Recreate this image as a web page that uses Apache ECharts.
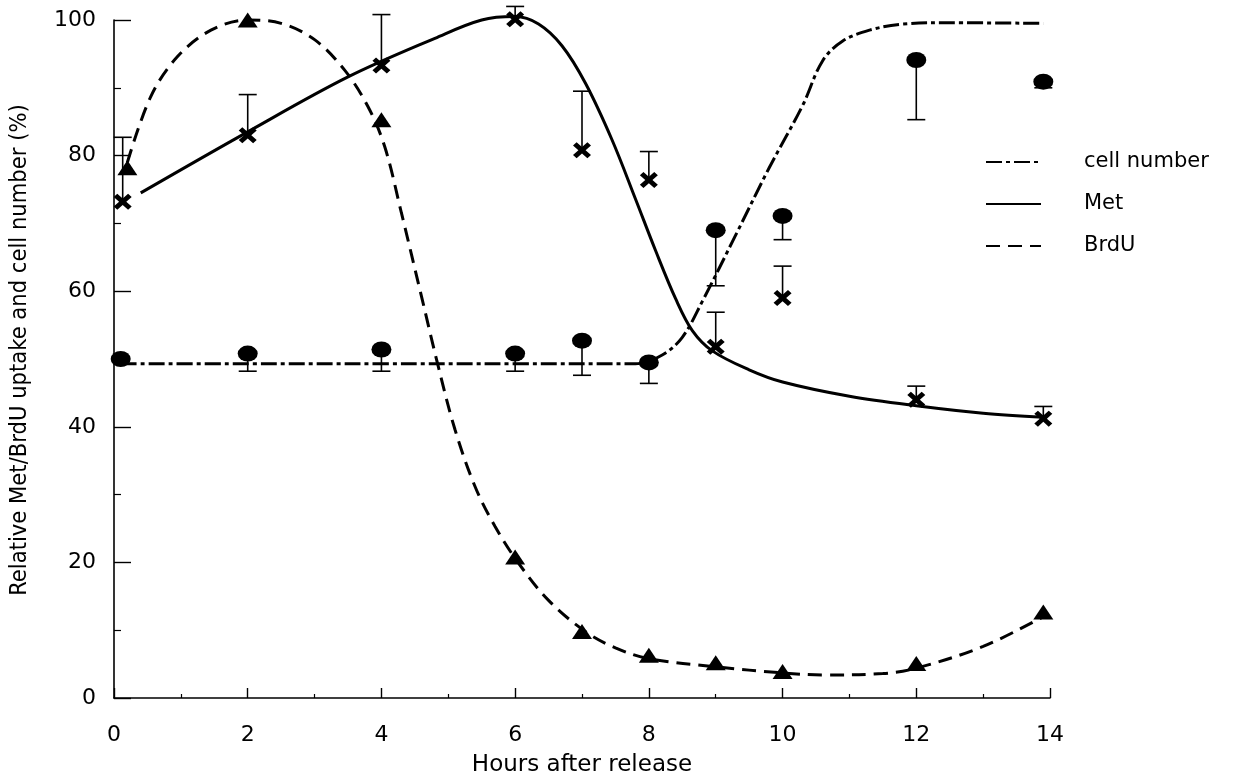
<!DOCTYPE html>
<html>
<head>
<meta charset="utf-8">
<script src="https://cdn.jsdelivr.net/npm/echarts@6/dist/echarts.min.js"></script>
<style>
html,body{margin:0;padding:0;background:#fff;}
#c{width:1256px;height:783px;}
</style>
</head>
<body>
<div id="c"></div>
<script>
// ---- data ----
const xTicks = [0, 2, 4, 6, 8, 10, 12, 14];
const yTicks = [0, 20, 40, 60, 80, 100];

// measured points (marker + error bar end)
const cellX   = [0.1, 2, 4, 6, 7, 8, 9, 10, 12, 13.9];
const cellY   = [50, 50.8, 51.4, 50.8, 52.7, 49.5, 69, 71.1, 94.1, 90.9];
const cellErr = [null, 48.2, 48.2, 48.2, 47.6, 46.4, 60.8, 67.6, 85.3, 90.0];

const metX   = [0.13, 2, 4, 6, 7, 8, 9, 10, 12, 13.9];
const metY   = [73.2, 83, 93.3, 100.1, 80.8, 76.4, 51.8, 59, 44, 41.2];
const metErr = [82.7, 89, 100.8, 102, 89.5, 80.6, 56.9, 63.7, 46, 43];

const brduX = [0.2, 2, 4, 6, 7, 8, 9, 10, 12, 13.9];
const brduY = [78.2, 100, 85.3, 20.8, 9.8, 6.3, 5.2, 3.9, 5.1, 12.7];

// fitted curves
const cellCurve = [[0.1,49.3],[2,49.3],[4,49.3],[6,49.3],[7.8,49.3],[8.2,50.6],[8.5,53.2],[8.8,58.5],[9.3,68.3],[9.8,78.2],[10.3,87.4],[10.6,94],[10.9,96.9],[11.3,98.5],[11.8,99.4],[12.5,99.6],[13.9,99.5]];
const metCurve = [[0.4,74.5],[2,83.5],[3.5,91.6],[4.8,97.3],[5.5,100],[6.0,100.5],[6.35,99.4],[6.7,96.2],[7.05,90.7],[7.45,82.3],[7.8,73.6],[8.1,66],[8.4,58.9],[8.65,54.2],[8.95,51.2],[9.5,48.4],[10,46.6],[11,44.5],[12,43.1],[13,42],[13.9,41.4]];
const brduCurve = [[0.2,79],[0.55,88.7],[0.95,94.6],[1.45,98.5],[2,100],[2.5,99.5],[3,97.1],[3.45,92.6],[3.8,87.2],[4.05,81.3],[4.3,71.5],[4.6,59.2],[4.85,48.9],[5.1,39.6],[5.4,31.2],[5.7,25.3],[6.05,19.9],[6.5,14.4],[7.05,9.8],[7.5,7.4],[8,5.8],[9,4.6],[10,3.7],[10.6,3.4],[11.5,3.6],[12,4.4],[13,7.6],[13.9,12]];

const seriesNames = ['cell number', 'Met', 'BrdU'];
const xTitle = 'Hours after release';
const yTitle = 'Relative Met/BrdU uptake and cell number (%)';

// ---- chart ----
const zip = (xs, ys) => xs.map((x, i) => [x, ys[i]]);
const errData = (xs, ys, es) => xs.map((x, i) => [x, ys[i], es[i]]).filter(d => d[2] != null);

const crossPath = 'path://M0,4L4,0L10,6L16,0L20,4L14,10L20,16L16,20L10,14L4,20L0,16L6,10Z';
const geneva = "'DejaVu Sans', Verdana, sans-serif";

function errRender(params, api) {
  const x = api.value(0), y = api.value(1), e = api.value(2);
  const p1 = api.coord([x, y]);
  const p2 = api.coord([x, e]);
  const style = { stroke: '#000', lineWidth: 1.6 };
  return {
    type: 'group',
    children: [
      { type: 'line', shape: { x1: p1[0], y1: p1[1], x2: p2[0], y2: p2[1] }, style },
      { type: 'line', shape: { x1: p2[0] - 9, y1: p2[1], x2: p2[0] + 9, y2: p2[1] }, style }
    ]
  };
}

const chart = echarts.init(document.getElementById('c'), null, { renderer: 'canvas' });
chart.setOption({
  animation: false,
  backgroundColor: '#fff',
  grid: { left: 113, right: 206, top: 20, bottom: 85, containLabel: false },
  legend: {
    data: seriesNames,
    orient: 'vertical',
    left: 980,
    top: 146,
    itemWidth: 55,
    itemHeight: 14,
    itemGap: 20,
    itemStyle: { color: 'rgba(0,0,0,0)', borderWidth: 0 },
    textStyle: { fontFamily: geneva, fontSize: 21, color: '#000', lineHeight: 22, padding: [0, 0, 0, 38] }
  },
  xAxis: {
    type: 'value', min: 0, max: 14, interval: 2,
    name: xTitle, nameLocation: 'middle', nameGap: 56,
    nameTextStyle: { fontFamily: "'DejaVu Sans', sans-serif", fontSize: 23, color: '#000' },
    axisLine: { show: true, lineStyle: { color: '#000', width: 1.6 } },
    axisTick: { show: true, inside: true, length: 10, lineStyle: { color: '#000', width: 1.4 } },
    minorTick: { show: true, splitNumber: 2, length: 4, lineStyle: { color: '#000', width: 1.2 } },
    axisLabel: { fontFamily: geneva, fontSize: 22, color: '#000', margin: 26 },
    splitLine: { show: false }
  },
  yAxis: {
    type: 'value', min: 0, max: 100, interval: 20,
    name: yTitle, nameLocation: 'middle', nameGap: 82,
    nameTextStyle: { fontFamily: "'Liberation Sans Narrow', 'DejaVu Sans Condensed', 'Arial Narrow', sans-serif", fontSize: 23.5, color: '#000', padding: [0, 0, 0, 18] },
    axisLine: { show: true, lineStyle: { color: '#000', width: 1.6 } },
    axisTick: { show: true, inside: true, length: 17, lineStyle: { color: '#000', width: 1.4 } },
    minorTick: { show: true, splitNumber: 2, length: 7, lineStyle: { color: '#000', width: 1.2 } },
    axisLabel: { fontFamily: geneva, fontSize: 22, color: '#000', margin: 18 },
    splitLine: { show: false }
  },
  series: [
    { name: 'cell number', type: 'line', data: cellCurve, smooth: 0.35, symbol: 'none', showSymbol: false, clip: false,
      lineStyle: { color: '#000', width: 3, type: [16, 4, 4, 4] }, itemStyle: { color: '#000' }, z: 2 },
    { name: 'Met', type: 'line', data: metCurve, smooth: 0.35, symbol: 'none', showSymbol: false, clip: false,
      lineStyle: { color: '#000', width: 3, type: 'solid' }, itemStyle: { color: '#000' }, z: 2 },
    { name: 'BrdU', type: 'line', data: brduCurve, smooth: 0.35, symbol: 'none', showSymbol: false, clip: false,
      lineStyle: { color: '#000', width: 3, type: [14, 8] }, itemStyle: { color: '#000' }, z: 2 },

    { name: 'cell number error', type: 'custom', renderItem: errRender, data: errData(cellX, cellY, cellErr), clip: false, z: 3 },
    { name: 'Met error', type: 'custom', renderItem: errRender, data: errData(metX, metY, metErr), clip: false, z: 3 },

    { name: 'cell number data', type: 'scatter', data: zip(cellX, cellY), symbol: 'circle', symbolSize: [20, 16],
      itemStyle: { color: '#000', opacity: 1 }, clip: false, z: 4 },
    { name: 'Met data', type: 'scatter', data: zip(metX, metY), symbol: crossPath, symbolSize: [18, 16],
      itemStyle: { color: '#000', opacity: 1 }, clip: false, z: 4 },
    { name: 'BrdU data', type: 'scatter', data: zip(brduX, brduY), symbol: 'triangle', symbolSize: [20, 15],
      itemStyle: { color: '#000', opacity: 1 }, clip: false, z: 4 }
  ]
});
</script>
</body>
</html>
